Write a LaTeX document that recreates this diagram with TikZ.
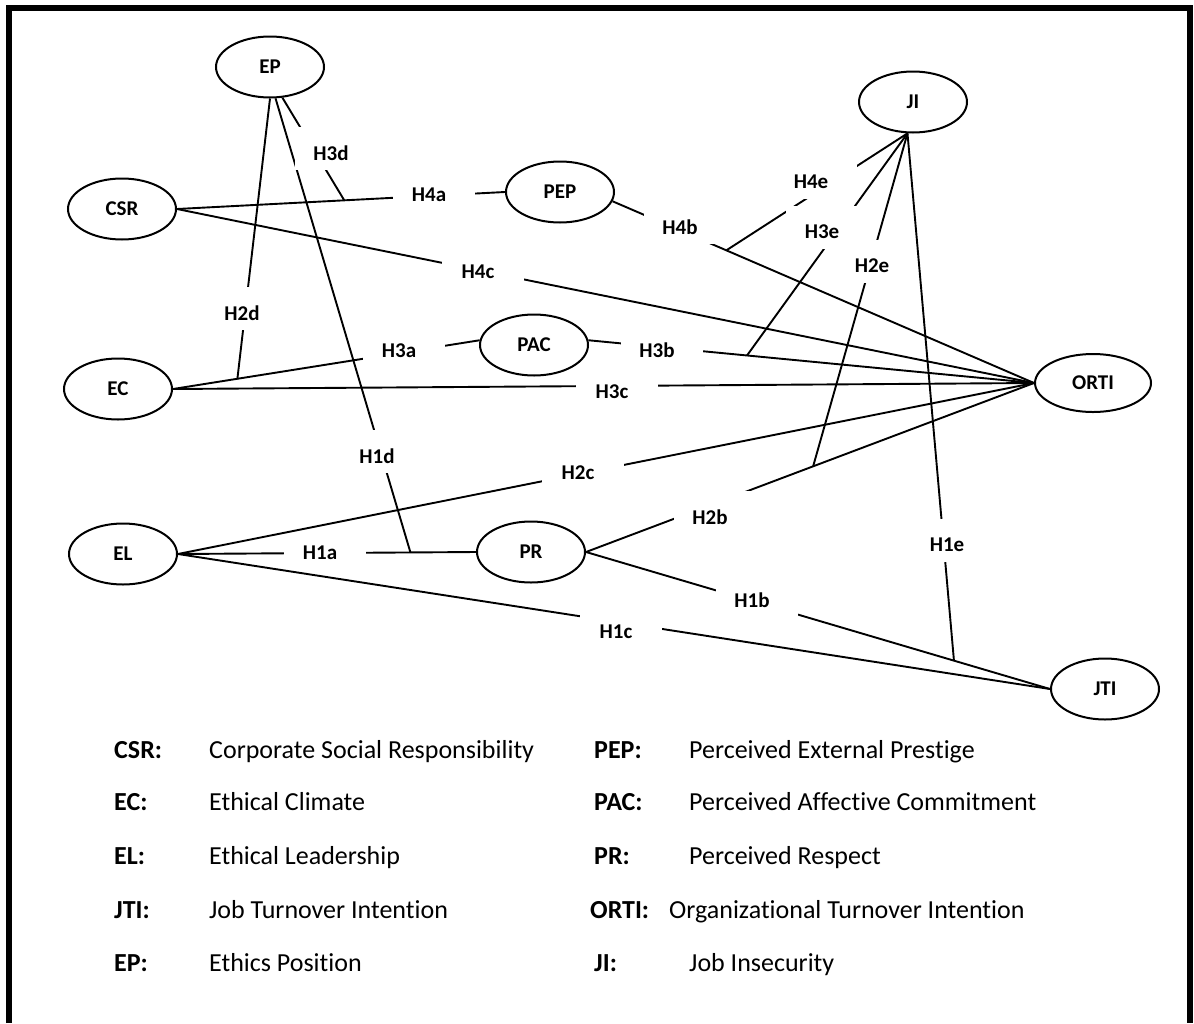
\documentclass[tikz,border=0pt]{standalone}
\usepackage{fontspec}
\setmainfont{Carlito}[Ligatures=NoCommon]
\usetikzlibrary{shapes.geometric,calc,backgrounds}

% a hypothesis label: white box that interrupts the path, with its tag
\newcommand\hyp[4][]{%
  \node[hypbox,#1] (#2) at ($(#3)+(5,-5)$) {};
  \node[hyptext] at (#3) {#4};}

\begin{document}
\begin{tikzpicture}[x=1pt,y=-1pt,
  construct/.style={ellipse,draw,line width=2pt,fill=white,
    minimum width=108pt,minimum height=61pt,inner sep=0pt,
    font=\fontsize{21}{25}\selectfont\bfseries},
  hypbox/.style={fill=white,minimum width=82pt,minimum height=43pt,inner sep=0pt},
  hyptext/.style={inner sep=0pt,font=\fontsize{21}{25}\selectfont\bfseries},
  link/.style={line width=1.9pt},
  abbr/.style={anchor=base west,inner sep=0pt,font=\fontsize{26}{31}\selectfont\bfseries},
  desc/.style={anchor=base west,inner sep=0pt,font=\fontsize{26}{31}\selectfont},
]
\useasboundingbox (0,0) rectangle (1194,1023);

% outer frame (open at the bottom)
\draw[line width=6pt,line join=miter] (9,1023) -- (9,8) -- (1190,8) -- (1190,1023);

% constructs
\node[construct] (ep)   at (270,67)  {EP};
\node[construct] (csr)  at (122,209) {CSR};
\node[construct] (pep)  at (560,192) {PEP};
\node[construct] (pac)  at (534,345) {PAC};
\node[construct] (ec)   at (118,389) {EC};
\node[construct] (el)   at (123,554) {EL};
\node[construct] (pr)   at (531,552) {PR};
\node[construct] (ji)   at (913,102) {JI};
\node[construct,minimum width=116pt,minimum height=58pt] (orti) at (1093,383) {ORTI};
\node[construct] (jti)  at (1105,689) {JTI};

% paths
\begin{pgfonlayer}{background}
  \draw[link] (csr.east) -- (pep.west);
  \draw[link] (csr.east) -- (orti.west);
  \draw[link] (pep.-10) -- (orti.west);
  \draw[link] (pac.5) -- (orti.west);
  \draw[link] (ec.east) -- (pac.175);
  \draw[link] (ec.east) -- (orti.west);
  \draw[link] (el.east) -- (pr.west);
  \draw[link] (el.east) -- (orti.west);
  \draw[link] (el.east) -- (jti.west);
  \draw[link] (pr.east) -- (orti.west);
  \draw[link] (pr.east) -- (jti.west);
  % moderators meet the paths here
  \coordinate (m4e) at ($(pep.-10)!0.27!(orti.west)$);
  \coordinate (m3e) at ($(pac.5)!0.356!(orti.west)$);
  \coordinate (m2e) at ($(pr.east)!0.507!(orti.west)$);
  \coordinate (m1e) at ($(pr.east)!0.793!(jti.west)$);
  \coordinate (m3d) at ($(csr.east)!0.51!(pep.west)$);
  \coordinate (m2d) at ($(ec.east)!0.21!(pac.175)$);
  \coordinate (m1d) at ($(el.east)!0.78!(pr.west)$);
  \draw[link] (ji.-100) -- (m4e);
  \draw[link] (ji.-100) -- (m3e);
  \draw[link] (ji.-100) -- (m2e);
  \draw[link] (ji.-100) -- (m1e);
  \draw[link] (ep.-68) -- (m3d);
  \draw[link] (ep.south) -- (m2d);
  \draw[link] (ep.-80) -- (m1d);
\end{pgfonlayer}

% hypothesis tags
\hyp{h4a}{429,195}{H4a}
\hyp{h4c}{478,272}{H4c}
\hyp{h4b}{680,227}{H4b}
\hyp{h4e}{811,182}{H4e}
\hyp{h3e}{822,232}{H3e}
\hyp[minimum width=74pt]{h2e}{872,266}{H2e}
\hyp{h3d}{331,153}{H3d}
\hyp{h2d}{242,313}{H2d}
\hyp{h3a}{399,351}{H3a}
\hyp{h3b}{657,350}{H3b}
\hyp{h3c}{612,392}{H3c}
\hyp{h1d}{377,456}{H1d}
\hyp{h2c}{578,473}{H2c}
\hyp{h2b}{710,517}{H2b}
\hyp[minimum height=22pt,yshift=-6pt]{h1a}{320,553}{H1a}
\hyp{h1e}{947,545}{H1e}
\hyp{h1b}{752,600}{H1b}
\hyp{h1c}{616,632}{H1c}

% key
\node[abbr] (k1) at (114,758) {CSR:};
\node[desc] (d1) at (209,758) {Corporate Social Responsibility};
\node[abbr] (k2) at (114,810) {EC:};
\node[desc] (d2) at (209,810) {Ethical Climate};
\node[abbr] (k3) at (114,864) {EL:};
\node[desc] (d3) at (209,864) {Ethical Leadership};
\node[abbr] (k4) at (114,918) {JTI:};
\node[desc] (d4) at (209,918) {Job Turnover Intention};
\node[abbr] (k5) at (114,971) {EP:};
\node[desc] (d5) at (209,971) {Ethics Position};
\node[abbr] (k6) at (594,758) {PEP:};
\node[desc] (d6) at (689,758) {Perceived External Prestige};
\node[abbr] (k7) at (594,810) {PAC:};
\node[desc] (d7) at (689,810) {Perceived Affective Commitment};
\node[abbr] (k8) at (594,864) {PR:};
\node[desc] (d8) at (689,864) {Perceived Respect};
\node[abbr] (k9) at (590,918) {ORTI:};
\node[desc] (d9) at (669,918) {Organizational Turnover Intention};
\node[abbr] (k10) at (594,971) {JI:};
\node[desc] (d10) at (689,971) {Job Insecurity};
\end{tikzpicture}
\end{document}
